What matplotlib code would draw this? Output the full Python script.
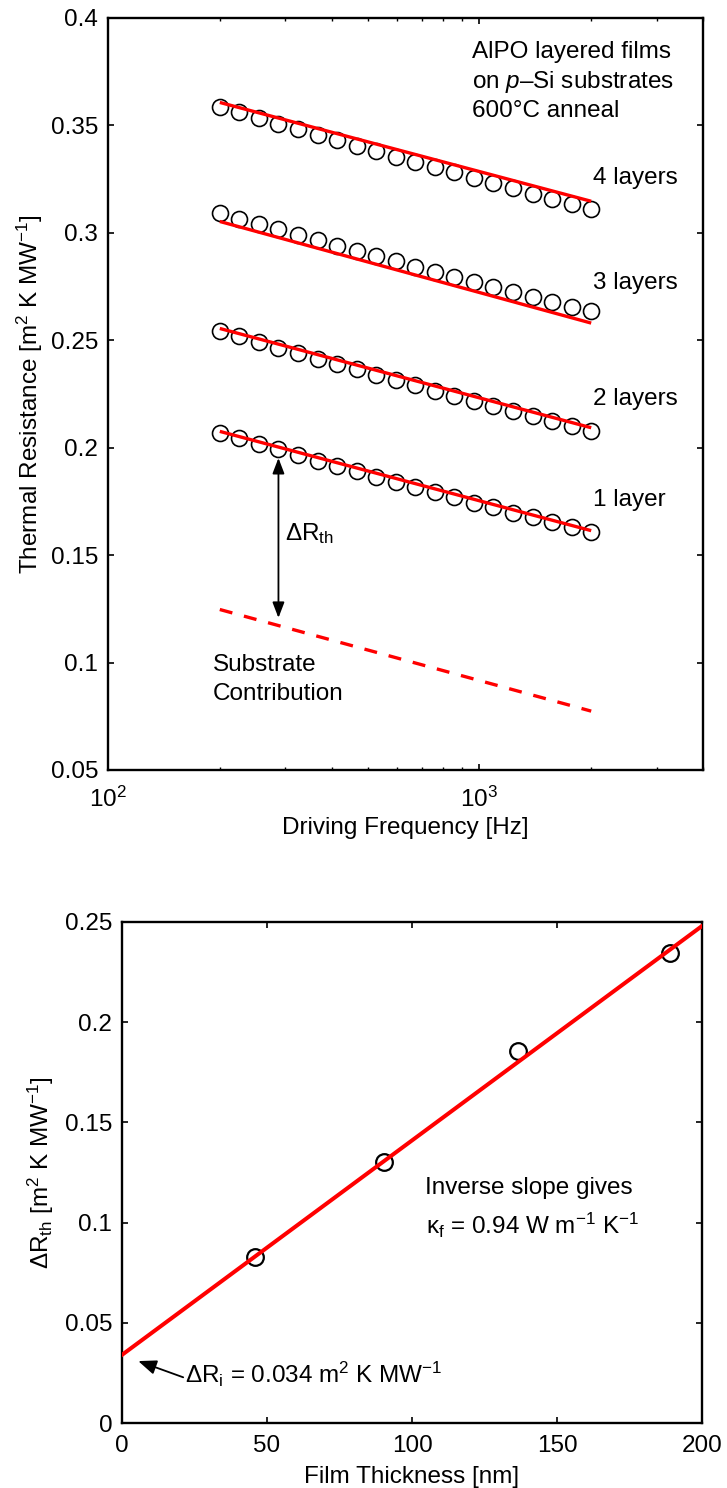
import matplotlib
matplotlib.use("Agg")
import matplotlib.pyplot as plt
from matplotlib.ticker import FixedLocator, NullFormatter, LogLocator

plt.rcParams['font.family'] = ['Liberation Sans', 'DejaVu Sans']
plt.rcParams['mathtext.fontset'] = 'custom'
plt.rcParams['mathtext.rm'] = 'Liberation Sans'
plt.rcParams['mathtext.it'] = 'Liberation Sans:italic'
plt.rcParams['mathtext.bf'] = 'Liberation Sans:bold'
plt.rcParams['mathtext.default'] = 'rm'

# ---------------- data: frequency sweep ----------------
freq = [200.0, 225.8, 254.9, 287.7, 324.8, 366.6, 413.8, 467.2, 527.4, 595.3,
        672.0, 758.6, 856.3, 966.7, 1091.2, 1231.8, 1390.5, 1569.7, 1771.9, 2000.0]

r_1layer = [0.2070, 0.2044, 0.2017, 0.1992, 0.1966, 0.1940, 0.1915, 0.1891, 0.1865, 0.1841,
            0.1817, 0.1793, 0.1769, 0.1745, 0.1722, 0.1698, 0.1676, 0.1653, 0.1630, 0.1608]
r_2layer = [0.2544, 0.2518, 0.2492, 0.2466, 0.2441, 0.2415, 0.2390, 0.2365, 0.2339, 0.2315,
            0.2290, 0.2266, 0.2242, 0.2218, 0.2194, 0.2170, 0.2147, 0.2123, 0.2100, 0.2077]
r_3layer = [0.3092, 0.3066, 0.3041, 0.3016, 0.2991, 0.2965, 0.2940, 0.2916, 0.2891, 0.2867,
            0.2843, 0.2819, 0.2796, 0.2772, 0.2749, 0.2726, 0.2702, 0.2679, 0.2656, 0.2634]
r_4layer = [0.3587, 0.3561, 0.3534, 0.3508, 0.3482, 0.3457, 0.3431, 0.3405, 0.3380, 0.3355,
            0.3330, 0.3305, 0.3281, 0.3256, 0.3232, 0.3207, 0.3183, 0.3159, 0.3136, 0.3112]

# fitted lines (values at 200 Hz and 2000 Hz)
fit_freq = [200.0, 2000.0]
fit_1layer = [0.2076, 0.1614]
fit_2layer = [0.2555, 0.2093]
fit_3layer = [0.3053, 0.2580]
fit_4layer = [0.3607, 0.3147]
substrate = [0.1247, 0.0774]

layer_labels = ['1 layer', '2 layers', '3 layers', '4 layers']
layer_label_y = [0.1756, 0.2225, 0.2767, 0.3254]

top_yticks = [0.05, 0.1, 0.15, 0.2, 0.25, 0.3, 0.35, 0.4]
top_yticklabels = ['0.05', '0.1', '0.15', '0.2', '0.25', '0.3', '0.35', '0.4']

# ---------------- data: thickness series ----------------
thickness = [45.9, 90.4, 136.7, 189.0]
delta_r = [0.0827, 0.1301, 0.1856, 0.2344]
fit_thickness = [0.0, 200.0]
fit_delta_r = [0.034, 0.248]

bot_xticks = [0, 50, 100, 150, 200]
bot_yticks = [0, 0.05, 0.1, 0.15, 0.2, 0.25]
bot_yticklabels = ['0', '0.05', '0.1', '0.15', '0.2', '0.25']

FS = 17.5
RED = '#ff0000'

fig = plt.figure(figsize=(7.27, 14.88), dpi=100)

# ================= top panel =================
ax1 = fig.add_axes([108 / 727, 1 - 770 / 1488, 595 / 727, 752 / 1488])

for r in (r_1layer, r_2layer, r_3layer, r_4layer):
    ax1.plot(freq, r, linestyle='none', marker='o', markersize=11.5,
             markerfacecolor='none', markeredgecolor='black', markeredgewidth=1.2, zorder=2)
for fit in (fit_1layer, fit_2layer, fit_3layer, fit_4layer):
    ax1.plot(fit_freq, fit, color=RED, linewidth=2.4, solid_capstyle='butt', zorder=3)
ax1.plot(fit_freq, substrate, color=RED, linewidth=2.4, dashes=(3.9, 3.6), zorder=3)

for lab, y in zip(layer_labels, layer_label_y):
    ax1.text(2020, y, lab, fontsize=FS, ha='left', va='center')

ax1.text(957, 0.3704, 'AlPO layered films\non $\\it{p}$–Si substrates\n600°C anneal',
         fontsize=FS, ha='left', va='center', linespacing=1.32)

ax1.annotate('', xy=(287.7, 0.1952), xytext=(287.7, 0.1208),
             arrowprops=dict(arrowstyle='<|-|>,head_length=0.47,head_width=0.18',
                             mutation_scale=20, color='black', lw=1.3,
                             shrinkA=0, shrinkB=0))
ax1.text(300, 0.157, 'ΔR$_{\\rm th}$', fontsize=FS, ha='left', va='baseline')
ax1.text(192, 0.0922, 'Substrate\nContribution', fontsize=FS, ha='left', va='center',
         linespacing=1.45)

ax1.set_xscale('log')
ax1.set_xlim(100, 4000)
ax1.set_ylim(0.05, 0.4)
ax1.xaxis.set_major_locator(LogLocator(base=10, numticks=10))
ax1.xaxis.set_minor_locator(LogLocator(base=10, subs=range(2, 10), numticks=20))
ax1.xaxis.set_minor_formatter(NullFormatter())
ax1.yaxis.set_major_locator(FixedLocator(top_yticks))
ax1.set_yticklabels(top_yticklabels)
ax1.set_xlabel('Driving Frequency [Hz]', fontsize=FS, labelpad=4)
ax1.set_ylabel('Thermal Resistance [m$^2$ K MW$^{-1}$]', fontsize=FS, labelpad=4)

# ================= bottom panel =================
ax2 = fig.add_axes([122 / 727, 1 - 1423 / 1488, 580 / 727, 501 / 1488])
ax2.plot(fit_thickness, fit_delta_r, color=RED, linewidth=2.9, zorder=3)
ax2.plot(thickness, delta_r, linestyle='none', marker='o', markersize=12,
         markerfacecolor='none', markeredgecolor='black', markeredgewidth=1.6, zorder=2)

ax2.text(104.5, 0.1143, 'Inverse slope gives', fontsize=FS, ha='left', va='baseline')
ax2.text(104.8, 0.0942, 'κ$_{\\rm f}$ = 0.94 W m$^{-1}$ K$^{-1}$', fontsize=FS,
         ha='left', va='baseline')
ax2.annotate('', xy=(5.6, 0.0309), xytext=(21.1, 0.0228),
             arrowprops=dict(arrowstyle='-|>,head_length=0.55,head_width=0.22',
                             mutation_scale=20, color='black', lw=1.3,
                             shrinkA=0, shrinkB=0))
ax2.text(21.7, 0.0198, 'ΔR$_{\\rm i}$ = 0.034 m$^2$ K MW$^{-1}$', fontsize=FS,
         ha='left', va='baseline')

ax2.set_xlim(0, 200)
ax2.set_ylim(0, 0.25)
ax2.xaxis.set_major_locator(FixedLocator(bot_xticks))
ax2.yaxis.set_major_locator(FixedLocator(bot_yticks))
ax2.set_yticklabels(bot_yticklabels)
ax2.set_xlabel('Film Thickness [nm]', fontsize=FS, labelpad=6)
ax2.set_ylabel('ΔR$_{\\rm th}$ [m$^2$ K MW$^{-1}$]', fontsize=FS, labelpad=6)

for ax in (ax1, ax2):
    for s in ax.spines.values():
        s.set_linewidth(1.7)
    ax.tick_params(which='major', direction='in', length=4.2, width=1.2,
                   top=True, right=True, labelsize=FS, pad=7)
    ax.tick_params(which='minor', direction='in', length=2.2, width=1.0,
                   top=True, right=True)
ax1.tick_params(axis='x', which='major', pad=12)
ax2.tick_params(axis='x', which='major', pad=9)

fig.savefig('out.png', dpi=100, facecolor='white')
